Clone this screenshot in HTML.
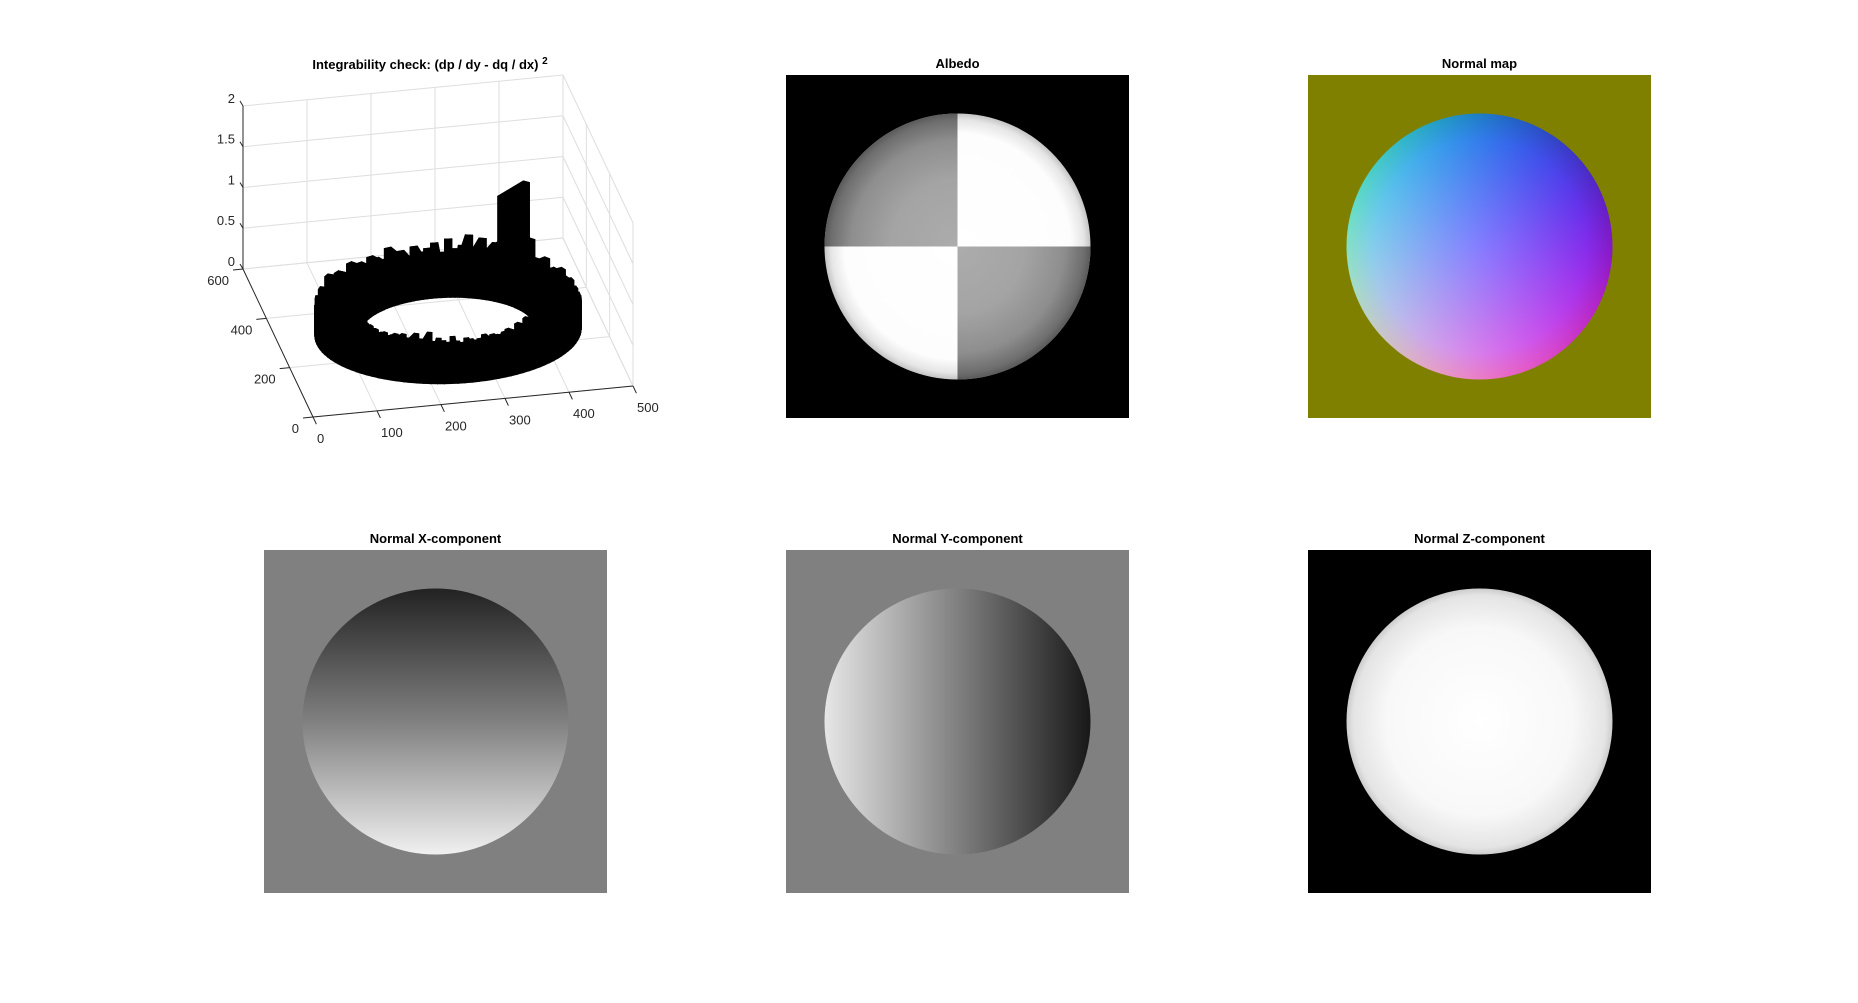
<!DOCTYPE html>
<html><head><meta charset="utf-8">
<style>
html,body{margin:0;padding:0;background:#fff;}
svg{display:block;font-family:"Liberation Sans",Arial,sans-serif;}
.t{font-weight:bold;font-size:13px;fill:#000;text-anchor:middle;}
.tk{font-size:13px;fill:#262626;}
</style></head>
<body>
<svg id="root" width="1858" height="1003" viewBox="0 0 1858 1003" xmlns="http://www.w3.org/2000/svg">
<defs>
  <clipPath id="c1"><circle cx="957.5" cy="246.5" r="133"/></clipPath>
  <clipPath id="c2"><circle cx="1479.5" cy="246.5" r="133"/></clipPath>
  <radialGradient id="gshade" gradientUnits="userSpaceOnUse" cx="957.5" cy="246.5" r="133">
    <stop offset="0" stop-color="#acacac"/><stop offset="0.5" stop-color="#a4a4a4"/><stop offset="0.8" stop-color="#8e8e8e"/><stop offset="0.95" stop-color="#6e6e6e"/><stop offset="1" stop-color="#5a5a5a"/>
  </radialGradient>
  <radialGradient id="wshade" gradientUnits="userSpaceOnUse" cx="957.5" cy="246.5" r="133">
    <stop offset="0" stop-color="#ffffff"/><stop offset="0.85" stop-color="#fdfdfd"/><stop offset="0.95" stop-color="#e6e6e6"/><stop offset="1" stop-color="#c4c4c4"/>
  </radialGradient>
  <linearGradient id="nr" x1="0" y1="0" x2="0" y2="1">
    <stop offset="0" stop-color="rgb(30,0,0)"/><stop offset="1" stop-color="rgb(235,0,0)"/>
  </linearGradient>
  <linearGradient id="ng" x1="0" y1="0" x2="1" y2="0">
    <stop offset="0" stop-color="rgb(0,225,0)"/><stop offset="1" stop-color="rgb(0,25,0)"/>
  </linearGradient>
  <radialGradient id="nb" cx="0.5" cy="0.5" r="0.5">
    <stop offset="0" stop-color="rgb(0,0,255)"/><stop offset="0.8" stop-color="rgb(0,0,235)"/><stop offset="1" stop-color="rgb(0,0,195)"/>
  </radialGradient>
  <linearGradient id="gx" x1="0" y1="0" x2="0" y2="1">
    <stop offset="0" stop-color="#222222"/><stop offset="0.5" stop-color="#808080"/><stop offset="1" stop-color="#f0f0f0"/>
  </linearGradient>
  <linearGradient id="gy" x1="0" y1="0" x2="1" y2="0">
    <stop offset="0" stop-color="#e6e6e6"/><stop offset="0.5" stop-color="#808080"/><stop offset="1" stop-color="#181818"/>
  </linearGradient>
  <radialGradient id="gz" cx="0.5" cy="0.5" r="0.5">
    <stop offset="0" stop-color="#ffffff"/><stop offset="0.7" stop-color="#f8f8f8"/><stop offset="0.95" stop-color="#e4e4e4"/><stop offset="1" stop-color="#cccccc"/>
  </radialGradient>
</defs>

<g id="plot3d">
  <text class="t" x="430" y="69">Integrability check: (dp / dy - dq / dx) <tspan dy="-5" font-size="10">2</tspan></text>
  <g id="grid3d"></g>
  <g id="ring3d"></g>
  <g id="axes3d"></g>
</g>

<g>
  <text class="t" x="957.5" y="68">Albedo</text>
  <rect x="786" y="75" width="343" height="343" fill="#000"/>
  <g clip-path="url(#c1)">
    <rect x="824" y="113" width="267" height="267" fill="url(#wshade)"/>
    <rect x="824" y="113" width="133.5" height="133.5" fill="url(#gshade)"/>
    <rect x="957.5" y="246.5" width="134" height="134" fill="url(#gshade)"/>
  </g>
</g>

<g>
  <text class="t" x="1479.5" y="68">Normal map</text>
  <rect x="1308" y="75" width="343" height="343" fill="#808000"/>
  <g clip-path="url(#c2)" style="isolation:isolate">
    <rect x="1346" y="113" width="267" height="267" fill="#000"/>
    <rect x="1346" y="113" width="267" height="267" fill="url(#nr)" style="mix-blend-mode:screen"/>
    <rect x="1346" y="113" width="267" height="267" fill="url(#ng)" style="mix-blend-mode:screen"/>
    <rect x="1346" y="113" width="267" height="267" fill="url(#nb)" style="mix-blend-mode:screen"/>
  </g>
</g>

<g>
  <text class="t" x="435.5" y="543">Normal X-component</text>
  <rect x="264" y="550" width="343" height="343" fill="#808080"/>
  <circle cx="435.5" cy="721.5" r="133" fill="url(#gx)"/>
</g>
<g>
  <text class="t" x="957.5" y="543">Normal Y-component</text>
  <rect x="786" y="550" width="343" height="343" fill="#808080"/>
  <circle cx="957.5" cy="721.5" r="133" fill="url(#gy)"/>
</g>
<g>
  <text class="t" x="1479.5" y="543">Normal Z-component</text>
  <rect x="1308" y="550" width="343" height="343" fill="#000"/>
  <circle cx="1479.5" cy="721.5" r="133" fill="url(#gz)"/>
</g>
</svg>

<script>
const xTicks = [0, 100, 200, 300, 400, 500];
const yTicks = [0, 200, 400, 600];
const zTicks = [0, 0.5, 1, 1.5, 2];
const zTickLabels = ["0", "0.5", "1", "1.5", "2"];
const ringHeights = [
0.30,0.34,0.28,0.38,0.31,0.35,0.42,0.33,0.37,0.30,0.45,0.36,0.40,0.62,1.30,0.70,0.38,0.44,0.35,0.48,
0.40,0.52,0.36,0.55,0.42,0.38,0.50,0.34,0.46,0.40,0.36,0.44,0.33,0.41,0.37,0.48,0.35,0.39,0.43,0.34,
0.40,0.36,0.45,0.33,0.38,0.42,0.35,0.39,0.47,0.34,0.37,0.41,0.33,0.36,0.40,0.32,0.35,0.38,0.31,0.34,
0.30,0.33,0.29,0.32,0.30,0.28,0.31,0.29,0.30,0.27,0.29,0.31,0.28,0.30,0.33,0.29,0.35,0.31,0.30,0.38,
0.32,0.29,0.41,0.30,0.34,0.31,0.29,0.36,0.30,0.28,0.33,0.31,0.29,0.30,0.34,0.28,0.32,0.30,0.29,0.31,
0.33,0.30,0.28,0.35,0.31,0.29,0.36,0.30,0.32,0.34,0.29,0.38,0.31,0.33,0.30,0.36,0.32,0.35,0.29,0.33
];
const ringCenter = [262, 280];
const ringOuter = [205];
const ringInner = [135];

const NS = "http://www.w3.org/2000/svg";
function P(x, y, z) {
  return [313 + x * 0.64 - y * 0.11667, 417 - x * 0.062 - y * 0.24667 - z * 81.5];
}
function line(g, a, b, stroke, w) {
  const l = document.createElementNS(NS, "line");
  l.setAttribute("x1", a[0]); l.setAttribute("y1", a[1]);
  l.setAttribute("x2", b[0]); l.setAttribute("y2", b[1]);
  l.setAttribute("stroke", stroke); l.setAttribute("stroke-width", w);
  g.appendChild(l);
  return l;
}
function text(g, x, y, s, anchor) {
  const t = document.createElementNS(NS, "text");
  t.setAttribute("x", x); t.setAttribute("y", y);
  t.setAttribute("class", "tk"); t.setAttribute("text-anchor", anchor);
  t.textContent = s;
  g.appendChild(t);
  return t;
}
const grid = document.getElementById("grid3d");
const gc = "#dedede";
const xMax = xTicks[xTicks.length - 1], yMax = yTicks[yTicks.length - 1], zMax = zTicks[zTicks.length - 1];
xTicks.forEach(x => {
  const l = line(grid, P(x, 0, 0), P(x, yMax, 0), gc, 1);
  
  
  const w = line(grid, P(x, yMax, 0), P(x, yMax, zMax), gc, 1);
  
  
});
yTicks.forEach(y => {
  const l = line(grid, P(0, y, 0), P(xMax, y, 0), gc, 1);
  
  
  const w = line(grid, P(xMax, y, 0), P(xMax, y, zMax), gc, 1);
  
  
});
zTicks.forEach(z => {
  const l = line(grid, P(0, yMax, z), P(xMax, yMax, z), gc, 1);
  
  
  const w = line(grid, P(xMax, yMax, z), P(xMax, 0, z), gc, 1);
  
  
});

const ring = document.getElementById("ring3d");
const n = ringHeights.length;
function rp(r, th, z) { return P(ringCenter[0] + r * Math.cos(th), ringCenter[1] + r * Math.sin(th), z); }
function quad(pts, name) {
  const poly = document.createElementNS(NS, "polygon");
  poly.setAttribute("points", pts.map(p => p[0].toFixed(1) + "," + p[1].toFixed(1)).join(" "));
  poly.setAttribute("fill", "#000");
  poly.setAttribute("stroke", "#000");
  poly.setAttribute("stroke-width", "0.8");
  poly.setAttribute("stroke-linejoin", "round");
  
  
  ring.appendChild(poly);
}
const R = ringOuter[0], r = ringInner[0];
for (let i = 0; i < n; i++) {
  const t1 = i * 2 * Math.PI / n, t2 = (i + 1) * 2 * Math.PI / n + 0.004;
  const h = ringHeights[i];
  quad([rp(R, t1, 0), rp(R, t2, 0), rp(R, t2, h), rp(R, t1, h)], 'ring-outer-wall');
  quad([rp(r, t1, 0), rp(r, t2, 0), rp(r, t2, h), rp(r, t1, h)], 'ring-inner-wall');
  quad([rp(R, t1, 0), rp(r, t1, 0), rp(r, t1, h), rp(R, t1, h)], 'ring-side-face');
  quad([rp(R, t2, 0), rp(r, t2, 0), rp(r, t2, h), rp(R, t2, h)], 'ring-side-face');
  quad([rp(R, t1, h), rp(R, t2, h), rp(r, t2, h), rp(r, t1, h)], 'ring-top');
}

const ax = document.getElementById("axes3d");
const ac = "#262626";
let a1 = line(ax, P(0, 0, 0), P(xMax, 0, 0), ac, 1);


let a2 = line(ax, P(0, 0, 0), P(0, yMax, 0), ac, 1);


let a3 = line(ax, P(0, yMax, 0), P(0, yMax, zMax), ac, 1);


xTicks.forEach(x => {
  const p = P(x, 0, 0);
  const t = line(ax, p, [p[0] + 3.4, p[1] + 7.2], ac, 1);
  
  
  const lb = text(ax, p[0] + 4, p[1] + 26, String(x), "start");
  
  
});
yTicks.forEach(y => {
  const p = P(0, y, 0);
  const t = line(ax, p, [p[0] - 10, p[1] + 1], ac, 1);
  
  
  const lb = text(ax, p[0] - 14, p[1] + 16, String(y), "end");
  
  
});
zTicks.forEach((z, i) => {
  const p = P(0, yMax, z);
  const t = line(ax, p, [p[0] - 3, p[1] - 5], ac, 1);
  
  
  const lb = text(ax, p[0] - 8, p[1] - 3, zTickLabels[i], "end");
  
  
});
</script>
</body></html>
